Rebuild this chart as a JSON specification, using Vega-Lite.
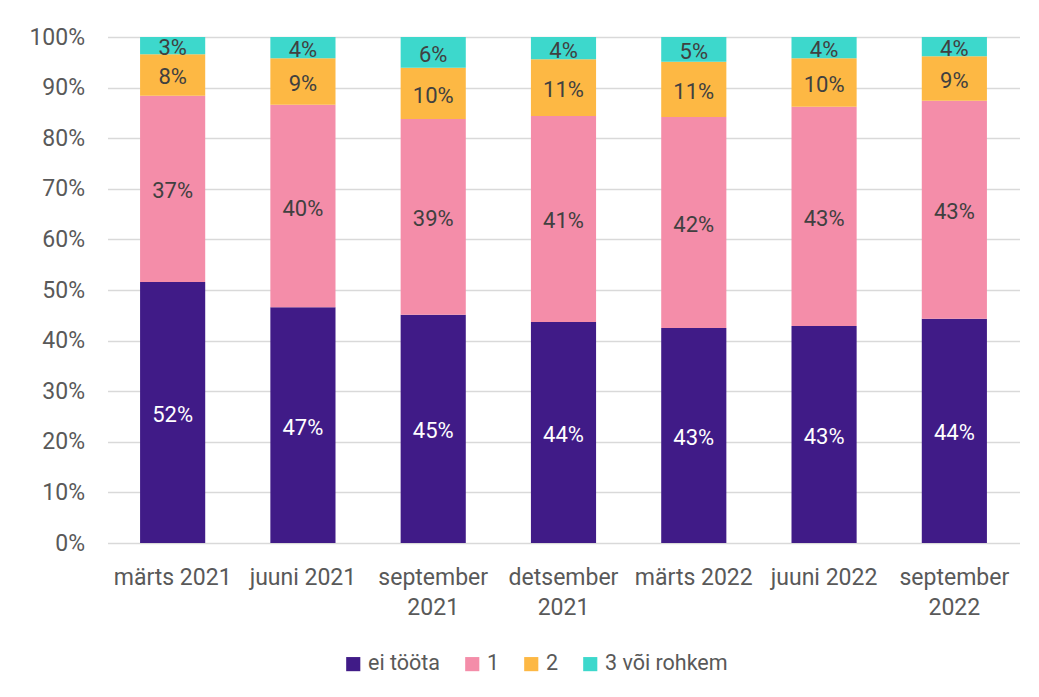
{
  "$schema": "https://vega.github.io/schema/vega-lite/v6.json",
  "width": 912,
  "height": 506,
  "padding": {"left": 28.5, "top": 26, "right": 19, "bottom": 10},
  "background": "white",
  "config": {
    "font": "Roboto",
    "view": {"stroke": null},
    "axis": {"labelFont": "Roboto", "labelFontSize": 23, "labelColor": "#595959"}
  },
  "data": {
    "values": [
      {"period": "märts 2021", "cat": "ei tööta", "o": 1, "v": 0.516},
      {"period": "märts 2021", "cat": "1", "o": 2, "v": 0.368},
      {"period": "märts 2021", "cat": "2", "o": 3, "v": 0.082},
      {"period": "märts 2021", "cat": "3 või rohkem", "o": 4, "v": 0.034},
      {"period": "juuni 2021", "cat": "ei tööta", "o": 1, "v": 0.466},
      {"period": "juuni 2021", "cat": "1", "o": 2, "v": 0.400},
      {"period": "juuni 2021", "cat": "2", "o": 3, "v": 0.092},
      {"period": "juuni 2021", "cat": "3 või rohkem", "o": 4, "v": 0.042},
      {"period": "september 2021", "cat": "ei tööta", "o": 1, "v": 0.451},
      {"period": "september 2021", "cat": "1", "o": 2, "v": 0.387},
      {"period": "september 2021", "cat": "2", "o": 3, "v": 0.101},
      {"period": "september 2021", "cat": "3 või rohkem", "o": 4, "v": 0.061},
      {"period": "detsember 2021", "cat": "ei tööta", "o": 1, "v": 0.437},
      {"period": "detsember 2021", "cat": "1", "o": 2, "v": 0.407},
      {"period": "detsember 2021", "cat": "2", "o": 3, "v": 0.112},
      {"period": "detsember 2021", "cat": "3 või rohkem", "o": 4, "v": 0.044},
      {"period": "märts 2022", "cat": "ei tööta", "o": 1, "v": 0.425},
      {"period": "märts 2022", "cat": "1", "o": 2, "v": 0.417},
      {"period": "märts 2022", "cat": "2", "o": 3, "v": 0.109},
      {"period": "märts 2022", "cat": "3 või rohkem", "o": 4, "v": 0.049},
      {"period": "juuni 2022", "cat": "ei tööta", "o": 1, "v": 0.429},
      {"period": "juuni 2022", "cat": "1", "o": 2, "v": 0.433},
      {"period": "juuni 2022", "cat": "2", "o": 3, "v": 0.096},
      {"period": "juuni 2022", "cat": "3 või rohkem", "o": 4, "v": 0.042},
      {"period": "september 2022", "cat": "ei tööta", "o": 1, "v": 0.443},
      {"period": "september 2022", "cat": "1", "o": 2, "v": 0.431},
      {"period": "september 2022", "cat": "2", "o": 3, "v": 0.088},
      {"period": "september 2022", "cat": "3 või rohkem", "o": 4, "v": 0.038}
    ]
  },
  "encoding": {
    "x": {
      "field": "period",
      "type": "nominal",
      "sort": null,
      "title": null,
      "scale": {"paddingInner": 0.5, "paddingOuter": 0.25},
      "axis": {
        "labelAngle": 0,
        "domain": false,
        "ticks": false,
        "labelFontSize": 23,
        "labelPadding": 23,
        "labelLineHeight": 30,
        "labelExpr": "length(datum.label) > 11 ? split(datum.label, ' ') : datum.label"
      }
    },
    "y": {
      "field": "v",
      "type": "quantitative",
      "stack": "normalize",
      "title": null,
      "scale": {"domain": [0, 1]},
      "axis": {
        "format": ".0%",
        "values": [0, 0.1, 0.2, 0.3, 0.4, 0.5, 0.6, 0.7, 0.8, 0.9, 1],
        "domain": false,
        "ticks": false,
        "labelFontSize": 23,
        "labelPadding": 23,
        "grid": true,
        "gridColor": "#D9D9D9",
        "gridWidth": 1.5
      }
    },
    "order": {"field": "o", "type": "quantitative"}
  },
  "layer": [
    {
      "mark": {"type": "bar"},
      "encoding": {
        "color": {
          "field": "cat",
          "type": "nominal",
          "sort": ["ei tööta", "1", "2", "3 või rohkem"],
          "scale": {
            "domain": ["ei tööta", "1", "2", "3 või rohkem"],
            "range": ["#401B87", "#F48DA9", "#FDB844", "#3DD8CC"]
          },
          "legend": {
            "title": null,
            "orient": "none",
            "legendX": 235,
            "legendY": 616,
            "direction": "horizontal",
            "symbolType": "square",
            "symbolSize": 200,
            "symbolStrokeWidth": 0,
            "labelFont": "Roboto",
            "labelFontSize": 21.5,
            "labelColor": "#595959",
            "columnPadding": 21
          }
        }
      }
    },
    {
      "mark": {"type": "text", "fontSize": 22, "font": "Roboto", "baseline": "middle", "dy": 2.5},
      "encoding": {
        "y": {"field": "v", "type": "quantitative", "stack": "normalize", "bandPosition": 0.5},
        "text": {"field": "v", "type": "quantitative", "format": ".0%"},
        "color": {
          "condition": {"test": "datum.cat === 'ei tööta'", "value": "#FFFFFF"},
          "value": "#404040"
        }
      }
    }
  ]
}
